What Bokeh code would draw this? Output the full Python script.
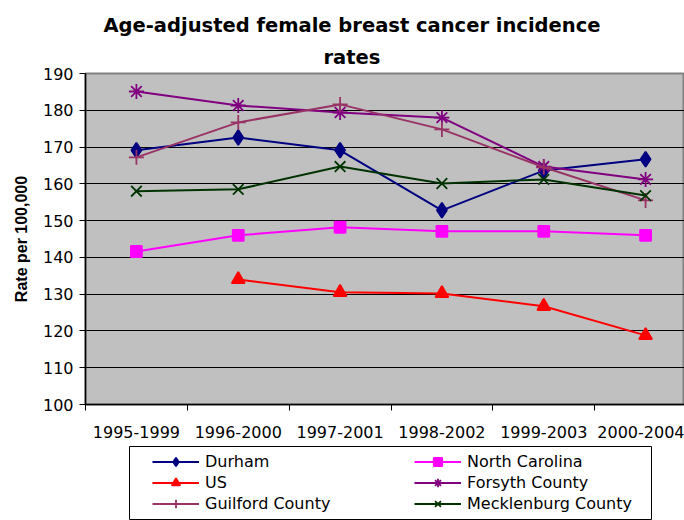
from bokeh.plotting import figure
from bokeh.models import (FixedTicker, Legend, LegendItem, Title, ColumnDataSource)
from bokeh.embed import file_html
from bokeh.resources import INLINE

periods = ["1995-1999", "1996-2000", "1997-2001", "1998-2002", "1999-2003", "2000-2004"]
durham = [169.1, 172.6, 169.1, 152.8, 163.6, 166.7]
north_carolina = [141.6, 146.0, 148.2, 147.1, 147.1, 146.0]
us = [None, 134.0, 130.5, 130.2, 126.7, 118.8]
forsyth = [185.1, 181.3, 179.4, 178.0, 164.7, 161.2]
guilford = [167.2, 176.7, 181.6, 174.8, 164.5, 155.5]
mecklenburg = [158.0, 158.5, 164.7, 160.1, 161.2, 156.8]
y_ticks = [100, 110, 120, 130, 140, 150, 160, 170, 180, 190]

FONT = "DejaVu Sans"
xpos = list(range(1, len(periods) + 1))

p = figure(frame_width=599, frame_height=331, output_backend="svg", toolbar_location=None,
           x_range=(0.5, 0.5 + 6 * 599 / 611), y_range=(100, 190),
           min_border_left=85, min_border_right=0, min_border_top=73, min_border_bottom=41)
p.background_fill_color = "#C0C0C0"
p.border_fill_color = "white"
p.outline_line_color = "#808080"
p.outline_line_width = 2

# axes
p.xaxis.ticker = FixedTicker(ticks=xpos, minor_ticks=[i + 0.5 for i in range(0, 7)])
p.xaxis.major_label_overrides = {i: s for i, s in zip(xpos, periods)}
p.xaxis.major_tick_line_color = None
p.xaxis.minor_tick_line_color = "black"
p.xaxis.minor_tick_out = 6
p.xaxis.minor_tick_in = 0
p.xaxis.axis_line_color = "black"
p.xaxis.axis_line_width = 1.5
p.xaxis.major_label_text_font = FONT
p.xaxis.major_label_text_font_size = "16px"
p.xaxis.major_label_text_color = "black"
p.xaxis.major_label_standoff = 15

p.yaxis.ticker = FixedTicker(ticks=y_ticks)
p.yaxis.minor_tick_line_color = None
p.yaxis.major_tick_out = 6
p.yaxis.major_tick_in = 0
p.yaxis.axis_line_color = "black"
p.yaxis.axis_line_width = 1.5
p.yaxis.major_label_text_font = FONT
p.yaxis.major_label_text_font_size = "16px"
p.yaxis.major_label_text_color = "black"
p.yaxis.major_label_standoff = 6
p.yaxis.axis_label = "Rate per 100,000"
p.yaxis.axis_label_text_font = "Liberation Sans"
p.yaxis.axis_label_text_font_style = "bold"
p.yaxis.axis_label_text_font_size = "16px"
p.yaxis.axis_label_text_color = "black"
p.yaxis.axis_label_standoff = 10

p.xgrid.grid_line_color = None
p.ygrid.ticker = FixedTicker(ticks=y_ticks)
p.ygrid.grid_line_color = "black"
p.ygrid.grid_line_width = 1

p.add_layout(Title(text="rates", align="left", offset=238, text_font=FONT,
                   text_font_size="19.5px", text_font_style="bold", text_color="black",
                   standoff=10), "above")
p.add_layout(Title(text="Age-adjusted female breast cancer incidence", align="left",
                   offset=18, text_font=FONT, text_font_size="19.5px",
                   text_font_style="bold", text_color="black", standoff=4), "above")

# legend figure (its frame outline acts as the legend box)
lf = figure(frame_width=522, frame_height=74, output_backend="svg", toolbar_location=None,
            x_range=(-3, -2), y_range=(0, 1), x_axis_type=None, y_axis_type=None,
            min_border_left=129, min_border_right=33, min_border_top=1, min_border_bottom=0)
lf.xgrid.visible = False
lf.ygrid.visible = False
lf.outline_line_color = "black"
lf.outline_line_width = 1
lf.background_fill_color = "white"

series = [
    ("Durham", durham, "#000080", "diamond", 15),
    ("North Carolina", north_carolina, "#FF00FF", "square", 11),
    ("US", us, "#FF0000", "triangle", 13),
    ("Forsyth County", forsyth, "#800080", "asterisk", 15),
    ("Guilford County", guilford, "#993366", "cross", 15),
    ("Mecklenburg County", mecklenburg, "#003300", "x", 15),
]

items = {}
for name, vals, color, marker, size in series:
    xs = [x for x, v in zip(xpos, vals) if v is not None]
    ys = [v for v in vals if v is not None]
    src = ColumnDataSource(dict(x=xs, y=ys))
    p.line("x", "y", source=src, line_color=color, line_width=2)
    p.scatter("x", "y", source=src, marker=marker, size=size,
              line_color=color, fill_color=color, line_width=1.8)
    ln = lf.line("x", "y", source=src, line_color=color, line_width=2)
    mk = lf.scatter("x", "y", source=src, marker=marker, size=size,
                    line_color=color, fill_color=color, line_width=1.8)
    items[name] = LegendItem(label=name, renderers=[ln, mk])

order = ["Durham", "US", "Guilford County", "North Carolina", "Forsyth County", "Mecklenburg County"]
legend = Legend(items=[items[n] for n in order], ncols=2, orientation="vertical",
                location=(23, 6), label_text_font=FONT, label_text_font_size="16px",
                label_text_color="black",
                glyph_width=47, glyph_height=21, label_height=21, label_width=209,
                label_standoff=6, spacing=0, padding=0, margin=0,
                border_line_color=None, background_fill_alpha=0)
lf.add_layout(legend, "center")

open("out.html", "w").write(file_html([p, lf], INLINE))
